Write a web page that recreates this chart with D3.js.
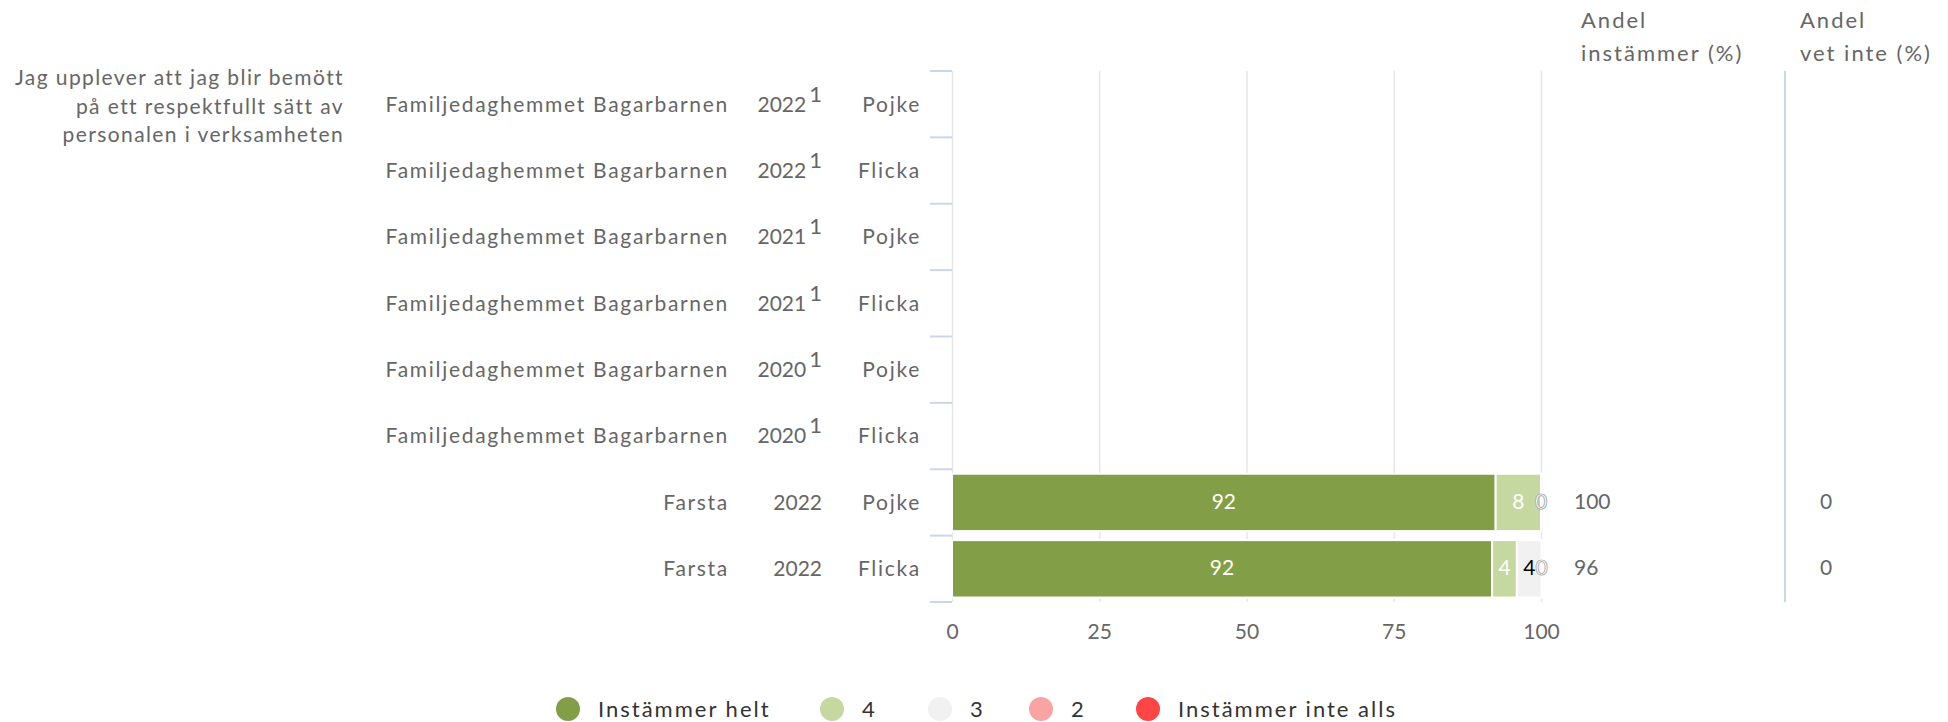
<!DOCTYPE html>
<html>
<head>
<meta charset="utf-8">
<script src="https://cdn.jsdelivr.net/npm/d3@7"></script>
<style>
  body { margin: 0; background: #fff; }
  svg text { font-family: Lato, "Open Sans", sans-serif; }
  .words { letter-spacing: 1.7px; }
</style>
</head>
<body>
<svg id="chart" width="1948" height="722"></svg>
<script>
// data
var question = ["Jag upplever att jag blir bemött", "på ett respektfullt sätt av", "personalen i verksamheten"];
var rowUnits = ["Familjedaghemmet Bagarbarnen", "Familjedaghemmet Bagarbarnen", "Familjedaghemmet Bagarbarnen",
  "Familjedaghemmet Bagarbarnen", "Familjedaghemmet Bagarbarnen", "Familjedaghemmet Bagarbarnen", "Farsta", "Farsta"];
var rowYears = ["2022", "2022", "2021", "2021", "2020", "2020", "2022", "2022"];
var rowNotes = ["1", "1", "1", "1", "1", "1", "", ""];
var rowGender = ["Pojke", "Flicka", "Pojke", "Flicka", "Pojke", "Flicka", "Pojke", "Flicka"];

var seriesNames = ["Instämmer helt", "4", "3", "2", "Instämmer inte alls"];
var seriesColors = ["#829e46", "#c5d89f", "#f1f1f1", "#f9a3a3", "#ff4545"];
var helt = [null, null, null, null, null, null, 92.3, 91.7];
var four = [null, null, null, null, null, null, 7.7, 4.2];
var three = [null, null, null, null, null, null, 0, 4.2];
var two = [null, null, null, null, null, null, 0, 0];
var inteAlls = [null, null, null, null, null, null, 0, 0];
var shareAgree = [null, null, null, null, null, null, 100, 96];
var shareDontKnow = [null, null, null, null, null, null, 0, 0];
var xTicks = [0, 25, 50, 75, 100];

var svg = d3.select("#chart");
var textGray = "#666";

var x = d3.scaleLinear().domain([0, 100]).range([952, 1541]);
var y = d3.scaleBand().domain(d3.range(rowUnits.length)).range([71, 602]);
var barPad = 4.5;

// gridlines + bottom tick labels
var xAxis = d3.axisBottom(x).tickValues(xTicks).tickSize(-(y.range()[1] - y.range()[0])).tickPadding(22);
var gx = svg.append("g").attr("transform", "translate(0," + y.range()[1] + ")").call(xAxis);
gx.select(".domain").remove();
gx.selectAll(".tick line").attr("stroke", "#e6e6e6").attr("stroke-width", 1.5);
gx.selectAll(".tick text").attr("fill", textGray).style("font-size", "21px").attr("font-family", "Lato, sans-serif");

// category tick marks (band boundaries)
var bounds = y.domain().map(function(d) { return y(d); }).concat([y.range()[1]]);
svg.append("g").selectAll("line").data(bounds).join("line")
  .attr("x1", 930).attr("x2", x(0)).attr("y1", function(d) { return d; }).attr("y2", function(d) { return d; })
  .attr("stroke", "#ccd6eb").attr("stroke-width", 2);

// question text
svg.append("g").selectAll("text").data(question).join("text")
  .style("letter-spacing", "1.4px")
  .attr("x", 344).attr("y", function(d, i) { return 78 + i * 28.5; })
  .attr("dy", "0.35em").attr("text-anchor", "end")
  .attr("fill", textGray).style("font-size", "21px").text(function(d) { return d; });

// row labels
var rows = svg.append("g").selectAll("g").data(rowUnits).join("g")
  .attr("transform", function(d, i) { return "translate(0," + (y(i) + y.bandwidth() / 2) + ")"; });
rows.append("text").attr("class", "words").attr("x", 729).attr("dy", "0.35em").attr("text-anchor", "end")
  .attr("fill", textGray).style("font-size", "21px").text(function(d) { return d; });
var yr = rows.append("text").attr("x", 822).attr("dy", "0.35em").attr("text-anchor", "end")
  .attr("fill", textGray).style("font-size", "21px");
yr.append("tspan").text(function(d, i) { return rowYears[i]; });
yr.append("tspan").attr("dx", 3).attr("dy", -10).style("font-size", "22px")
  .text(function(d, i) { return rowNotes[i]; });
rows.append("text").attr("class", "words").attr("x", 921).attr("dy", "0.35em").attr("text-anchor", "end")
  .attr("fill", textGray).style("font-size", "21px").text(function(d, i) { return rowGender[i]; });

// stacked bars
var table = rowUnits.map(function(d, i) {
  return { i: i, s0: helt[i], s1: four[i], s2: three[i], s3: two[i], s4: inteAlls[i] };
}).filter(function(d) { return d.s0 != null; });
var keys = ["s0", "s1", "s2", "s3", "s4"];
var stacked = d3.stack().keys(keys)(table);

var layers = svg.append("g").selectAll("g").data(stacked).join("g")
  .attr("fill", function(d, k) { return seriesColors[k]; });
layers.selectAll("rect").data(function(d) { return d; }).join("rect")
  .attr("x", function(d) { return x(d[0]); })
  .attr("width", function(d) { return Math.max(0, x(d[1]) - x(d[0])); })
  .attr("y", function(d) { return y(d.data.i) + barPad; })
  .attr("height", y.bandwidth() - 2 * barPad)
  .attr("stroke", "#fff").attr("stroke-width", 2);

// data labels
stacked.forEach(function(layer, k) {
  svg.append("g").selectAll("text").data(layer).join("text")
    .attr("x", function(d) { return (x(d[0]) + x(d[1])) / 2; })
    .attr("y", function(d) { return y(d.data.i) + y.bandwidth() / 2 - 1; })
    .attr("dy", "0.35em").attr("text-anchor", "middle")
    .style("font-size", "21px")
    .attr("fill", function(d) { return d[1] - d[0] === 0 ? "#fff" : (k < 2 ? "#fff" : "#000"); })
    .attr("stroke", function(d) { return d[1] - d[0] === 0 ? "#aaa" : "none"; })
    .attr("stroke-width", 0.7)
    .text(function(d) { return Math.round(d[1] - d[0]); });
});

// share columns
svg.append("line").attr("x1", 1785).attr("x2", 1785).attr("y1", y.range()[0]).attr("y2", y.range()[1])
  .attr("stroke", "#ccd6eb").attr("stroke-width", 2);
var headers = [{ x: 1581, lines: ["Andel", "instämmer (%)"] }, { x: 1800, lines: ["Andel", "vet inte (%)"] }];
headers.forEach(function(h) {
  svg.append("g").selectAll("text").data(h.lines).join("text")
    .attr("x", h.x).attr("y", function(d, i) { return 20 + i * 33; }).attr("dy", "0.35em")
    .style("letter-spacing", "2px")
    .attr("fill", textGray).style("font-size", "22px").text(function(d) { return d; });
});
svg.append("g").selectAll("text").data(shareAgree).join("text")
  .attr("x", 1574).attr("y", function(d, i) { return y(i) + y.bandwidth() / 2 - 1; }).attr("dy", "0.35em")
  .attr("fill", textGray).style("font-size", "21px").text(function(d) { return d == null ? "" : d; });
svg.append("g").selectAll("text").data(shareDontKnow).join("text")
  .attr("x", 1820).attr("y", function(d, i) { return y(i) + y.bandwidth() / 2 - 1; }).attr("dy", "0.35em")
  .attr("fill", textGray).style("font-size", "21px").text(function(d) { return d == null ? "" : d; });

// legend
var legendX = [568, 832, 940, 1041, 1148];
var legend = svg.append("g").selectAll("g").data(seriesNames).join("g")
  .attr("transform", function(d, i) { return "translate(" + legendX[i] + ",709)"; });
legend.append("circle").attr("r", 12).attr("fill", function(d, i) { return seriesColors[i]; });
legend.append("text").attr("x", 30).attr("dy", "0.35em").attr("fill", "#333")
  .style("letter-spacing", "2px")
  .style("font-size", "22px").text(function(d) { return d; });
</script>
</body>
</html>
